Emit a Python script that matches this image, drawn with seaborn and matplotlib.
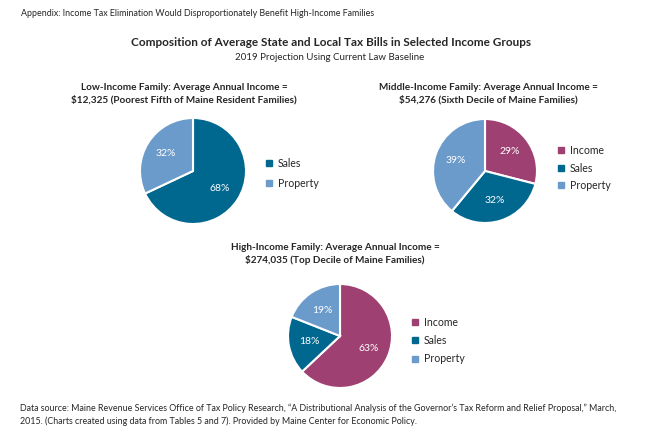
import matplotlib.pyplot as plt
import seaborn as sns
from matplotlib.lines import Line2D

# data (percent of average tax bill)
low_labels = ["Sales", "Property"]
low_values = [68, 32]
mid_labels = ["Income", "Sales", "Property"]
mid_values = [29, 32, 39]
high_labels = ["Income", "Sales", "Property"]
high_values = [63, 18, 19]

colors = {"Income": "#9E4172", "Sales": "#00678F", "Property": "#6B9BCB"}

sns.set_theme(style="white")
plt.rcParams["font.family"] = ["Lato", "DejaVu Sans"]

W, H = 650, 443
fig = plt.figure(figsize=(W / 100, H / 100), dpi=100)


def px(x, y):
    return x / W, 1 - y / H


def draw_pie(cx, cy, r, labels, values, leg_x, leg_y, spacing):
    pad = 1.25
    ax = fig.add_axes([(cx - r * pad) / W, 1 - (cy + r * pad) / H,
                       2 * r * pad / W, 2 * r * pad / H])
    ax.pie(
        values,
        colors=[colors[l] for l in labels],
        startangle=90,
        counterclock=False,
        autopct="%d%%",
        pctdistance=0.6,
        wedgeprops=dict(edgecolor="white", linewidth=1.5),
        textprops=dict(color="white", fontsize=7.5),
    )
    ax.set_xlim(-pad, pad)
    ax.set_ylim(-pad, pad)
    handles = [Line2D([], [], marker="s", linestyle="", markersize=4,
                      color=colors[l]) for l in labels]
    fig.legend(handles, labels, loc="upper left",
               bbox_to_anchor=px(leg_x, leg_y), frameon=False,
               fontsize=7.6, handlelength=0.6, handletextpad=0.5,
               labelspacing=spacing, borderpad=0, borderaxespad=0)


draw_pie(193, 171, 53, low_labels, low_values, 266, 158, 0.85)
draw_pie(485, 171, 52, mid_labels, mid_values, 558, 145, 0.62)
draw_pie(340, 336, 52, high_labels, high_values, 412, 317, 0.68)

fig.text(*px(21, 14), "Appendix: Income Tax Elimination Would Disproportionately Benefit High-Income Families",
         fontsize=6.4, va="center", ha="left")
fig.text(*px(331, 43), "Composition of Average State and Local Tax Bills in Selected Income Groups",
         fontsize=8.5, fontweight="bold", va="center", ha="center")
fig.text(*px(330, 57), "2019 Projection Using Current Law Baseline",
         fontsize=7.0, va="center", ha="center")

fig.text(*px(184, 94), "Low-Income Family: Average Annual Income =\n$12,325 (Poorest Fifth of Maine Resident Families)",
         fontsize=7.2, fontweight="bold", va="center", ha="center", linespacing=1.4)
fig.text(*px(488, 94), "Middle-Income Family: Average Annual Income =\n$54,276 (Sixth Decile of Maine Families)",
         fontsize=7.2, fontweight="bold", va="center", ha="center", linespacing=1.4)
fig.text(*px(335, 254), "High-Income Family: Average Annual Income =\n$274,035 (Top Decile of Maine Families)",
         fontsize=7.2, fontweight="bold", va="center", ha="center", linespacing=1.4)

fig.text(*px(20, 415),
         "Data source: Maine Revenue Services Office of Tax Policy Research, \u201cA Distributional Analysis of the Governor\u2019s Tax Reform and Relief Proposal,\u201d March,\n"
         "2015. (Charts created using data from Tables 5 and 7). Provided by Maine Center for Economic Policy.",
         fontsize=6.4, va="center", ha="left", linespacing=1.45)

fig.savefig("out.png", dpi=100)
